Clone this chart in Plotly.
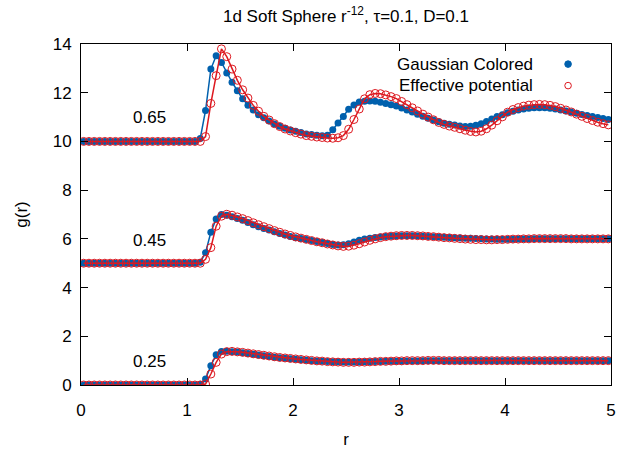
import numpy as np
import plotly.graph_objects as go

# bin centres r = 0.025, 0.075, ..., 4.975
r = np.round(0.025 + 0.05 * np.arange(100), 3)

densities = ["0.25", "0.45", "0.65"]
offsets = [0, 5, 10]

blue_025 = [
    0, 0, 0, 0, 0, 0, 0, 0, 0, 0,
    0, 0, 0, 0, 0, 0, 0, 0, 0, 0,
    0, 0, 0.03, 0.25, 0.79, 1.24, 1.38, 1.39, 1.37, 1.35,
    1.32, 1.29, 1.26, 1.23, 1.20, 1.17, 1.14, 1.12, 1.10, 1.08,
    1.06, 1.04, 1.02, 1.00, 0.99, 0.97, 0.96, 0.95, 0.95, 0.94,
    0.94, 0.94, 0.94, 0.95, 0.95, 0.96, 0.96, 0.97, 0.97, 0.98,
    0.98, 0.99, 0.99, 0.99, 1.00, 1.00, 1.00, 1.00, 1.00, 1.00,
    1.00, 1.00, 1.00, 1.00, 1.00, 1.00, 1.00, 1.00, 1.00, 1.00,
    1.00, 1.00, 1.00, 1.00, 1.00, 1.00, 1.00, 1.00, 1.00, 1.00,
    1.00, 1.00, 1.00, 1.00, 1.00, 1.00, 1.00, 1.00, 1.00, 1.00,
]
red_025 = [
    0, 0, 0, 0, 0, 0, 0, 0, 0, 0,
    0, 0, 0, 0, 0, 0, 0, 0, 0, 0,
    0, 0, 0, 0.04, 0.45, 0.93, 1.27, 1.37, 1.38, 1.36,
    1.34, 1.31, 1.28, 1.25, 1.22, 1.19, 1.16, 1.13, 1.11, 1.09,
    1.07, 1.05, 1.03, 1.01, 0.99, 0.98, 0.96, 0.95, 0.94, 0.93,
    0.93, 0.93, 0.94, 0.94, 0.95, 0.96, 0.97, 0.97, 0.98, 0.99,
    0.99, 1.00, 1.00, 1.00, 1.00, 1.01, 1.01, 1.01, 1.00, 1.00,
    1.00, 1.00, 1.00, 1.00, 1.00, 1.00, 1.00, 1.00, 1.00, 1.00,
    1.00, 1.00, 1.00, 1.00, 1.00, 1.00, 1.00, 1.00, 1.00, 1.00,
    1.00, 1.00, 1.00, 1.00, 1.00, 1.00, 1.00, 1.00, 1.00, 1.00,
]
blue_045 = [
    0, 0, 0, 0, 0, 0, 0, 0, 0, 0,
    0, 0, 0, 0, 0, 0, 0, 0, 0, 0,
    0, 0, 0.04, 0.43, 1.27, 1.82, 2.00, 1.97, 1.91, 1.84,
    1.76, 1.67, 1.58, 1.50, 1.43, 1.36, 1.29, 1.22, 1.16, 1.10,
    1.05, 1.01, 0.97, 0.93, 0.89, 0.85, 0.81, 0.77, 0.75, 0.76,
    0.80, 0.87, 0.94, 0.99, 1.03, 1.06, 1.08, 1.10, 1.11, 1.12,
    1.13, 1.13, 1.13, 1.12, 1.11, 1.10, 1.09, 1.08, 1.07, 1.06,
    1.05, 1.04, 1.03, 1.02, 1.01, 1.00, 0.99, 0.99, 0.98, 0.98,
    0.98, 0.98, 0.99, 0.99, 0.99, 1.00, 1.00, 1.00, 1.00, 1.00,
    1.00, 1.00, 1.00, 1.00, 1.00, 1.00, 1.00, 1.00, 1.00, 1.00,
]
red_045 = [
    0, 0, 0, 0, 0, 0, 0, 0, 0, 0,
    0, 0, 0, 0, 0, 0, 0, 0, 0, 0,
    0, 0, 0, 0.16, 0.64, 1.52, 1.93, 2.01, 1.97, 1.90,
    1.83, 1.75, 1.66, 1.58, 1.50, 1.42, 1.34, 1.27, 1.20, 1.14,
    1.08, 1.03, 0.98, 0.93, 0.88, 0.84, 0.79, 0.75, 0.71, 0.69,
    0.70, 0.74, 0.80, 0.87, 0.94, 1.00, 1.05, 1.09, 1.11, 1.13,
    1.14, 1.14, 1.14, 1.13, 1.12, 1.10, 1.09, 1.07, 1.05, 1.04,
    1.02, 1.01, 0.99, 0.98, 0.97, 0.97, 0.96, 0.96, 0.97, 0.97,
    0.98, 0.99, 0.99, 1.00, 1.00, 1.01, 1.01, 1.01, 1.01, 1.01,
    1.01, 1.01, 1.00, 1.00, 1.00, 1.00, 1.00, 1.00, 1.00, 1.00,
]
blue_065 = [
    0, 0, 0, 0, 0, 0, 0, 0, 0, 0,
    0, 0, 0, 0, 0, 0, 0, 0, 0, 0,
    0, 0, 0.12, 1.27, 2.97, 3.52, 3.24, 2.81, 2.43, 2.08,
    1.75, 1.49, 1.29, 1.10, 0.97, 0.84, 0.72, 0.62, 0.54, 0.47,
    0.42, 0.37, 0.31, 0.28, 0.25, 0.23, 0.25, 0.48, 0.76, 1.02,
    1.32, 1.50, 1.62, 1.65, 1.66, 1.65, 1.61, 1.56, 1.51, 1.45,
    1.37, 1.29, 1.21, 1.12, 1.03, 0.95, 0.88, 0.81, 0.75, 0.71,
    0.67, 0.63, 0.61, 0.62, 0.66, 0.73, 0.82, 0.92, 1.02, 1.10,
    1.18, 1.24, 1.29, 1.33, 1.36, 1.38, 1.38, 1.38, 1.36, 1.33,
    1.29, 1.25, 1.21, 1.16, 1.11, 1.06, 1.02, 0.98, 0.94, 0.90,
]
red_065 = [
    0, 0, 0, 0, 0, 0, 0, 0, 0, 0,
    0, 0, 0, 0, 0, 0, 0, 0, 0, 0,
    0, 0, 0, 0.20, 1.56, 2.70, 3.80, 3.48, 2.97, 2.51,
    2.12, 1.78, 1.48, 1.24, 1.03, 0.88, 0.73, 0.61, 0.51, 0.43,
    0.36, 0.30, 0.24, 0.21, 0.18, 0.16, 0.14, 0.13, 0.15, 0.24,
    0.50, 0.90, 1.33, 1.75, 1.92, 1.97, 1.96, 1.91, 1.84, 1.76,
    1.64, 1.51, 1.38, 1.25, 1.12, 1.00, 0.89, 0.78, 0.70, 0.63,
    0.58, 0.52, 0.46, 0.41, 0.39, 0.42, 0.52, 0.67, 0.85, 1.01,
    1.20, 1.31, 1.39, 1.45, 1.49, 1.51, 1.52, 1.51, 1.48, 1.43,
    1.36, 1.29, 1.21, 1.12, 1.03, 0.94, 0.86, 0.79, 0.73, 0.68,
]

blue_series = [blue_025, blue_045, blue_065]
red_series = [red_025, red_045, red_065]

legend_labels = ["Gaussian Colored", "Effective potential"]
title_text = "1d Soft Sphere r<sup>-12</sup>, \u03c4=0.1, D=0.1"

BLUE = "#0060ad"
RED = "#dd181f"
FONT = "Liberation Sans, Arial, Helvetica, sans-serif"
FS = 17

fig = go.Figure()
for k in range(3):
    fig.add_trace(go.Scatter(
        x=r, y=np.array(blue_series[k]) + offsets[k], mode="lines+markers",
        line=dict(color=BLUE, width=1.5),
        marker=dict(symbol="circle", size=7, color=BLUE),
        showlegend=False, name=legend_labels[0]))
for k in range(3):
    fig.add_trace(go.Scatter(
        x=r, y=np.array(red_series[k]) + offsets[k], mode="lines+markers",
        line=dict(color=RED, width=1.5),
        marker=dict(symbol="circle-open", size=8, color=RED, line=dict(width=1)),
        showlegend=False, name=legend_labels[1]))

# density labels
label_y = [0.96, 5.95, 11.0]
for k in range(3):
    fig.add_annotation(x=0.65, y=label_y[k], xref="x", yref="y", text=densities[k],
                       showarrow=False, font=dict(size=FS, color="black", family=FONT))

# gnuplot-style key: text right-aligned, symbol on the right
key_y = [0.941, 0.878]
for i, lab in enumerate(legend_labels):
    fig.add_annotation(x=0.856, y=key_y[i], xref="paper", yref="paper", text=lab,
                       showarrow=False, xanchor="right", yanchor="middle",
                       font=dict(size=FS, color="black", family=FONT))
fig.add_shape(type="circle", xref="paper", yref="paper", xsizemode="pixel", ysizemode="pixel",
              xanchor=0.919, yanchor=key_y[0], x0=-3.3, x1=3.3, y0=-3.3, y1=3.3,
              fillcolor=BLUE, line=dict(color=BLUE, width=1))
fig.add_shape(type="circle", xref="paper", yref="paper", xsizemode="pixel", ysizemode="pixel",
              xanchor=0.919, yanchor=key_y[1], x0=-3.3, x1=3.3, y0=-3.3, y1=3.3,
              fillcolor="rgba(0,0,0,0)", line=dict(color=RED, width=1))

axis_common = dict(showline=True, linecolor="black", linewidth=1, mirror="ticks",
                   ticks="inside", ticklen=7, tickwidth=1, tickcolor="black",
                   showgrid=False, zeroline=False, automargin=False,
                   tickfont=dict(size=FS, color="black", family=FONT))

fig.update_layout(
    width=631, height=453,
    margin=dict(l=81, r=20, t=44, b=68),
    paper_bgcolor="white", plot_bgcolor="white",
    font=dict(family=FONT, size=FS, color="black"),
    title=dict(text=title_text, x=0.5, xref="paper", y=1 - 16 / 453, yref="container",
               xanchor="center", yanchor="middle", font=dict(size=FS, color="black", family=FONT)),
    xaxis=dict(range=[0, 5], tickvals=[0, 1, 2, 3, 4, 5], ticklabelstandoff=10,
               title=dict(text="r", standoff=13, font=dict(size=FS, color="black")),
               **axis_common),
    yaxis=dict(range=[0, 14], tickvals=[0, 2, 4, 6, 8, 10, 12, 14], ticklabelstandoff=5,
               title=dict(text="g(r)", standoff=20, font=dict(size=FS, color="black")),
               **axis_common),
)

fig.write_html("out.html", config={"displayModeBar": False},
               post_script="document.body.style.margin='0px';")
